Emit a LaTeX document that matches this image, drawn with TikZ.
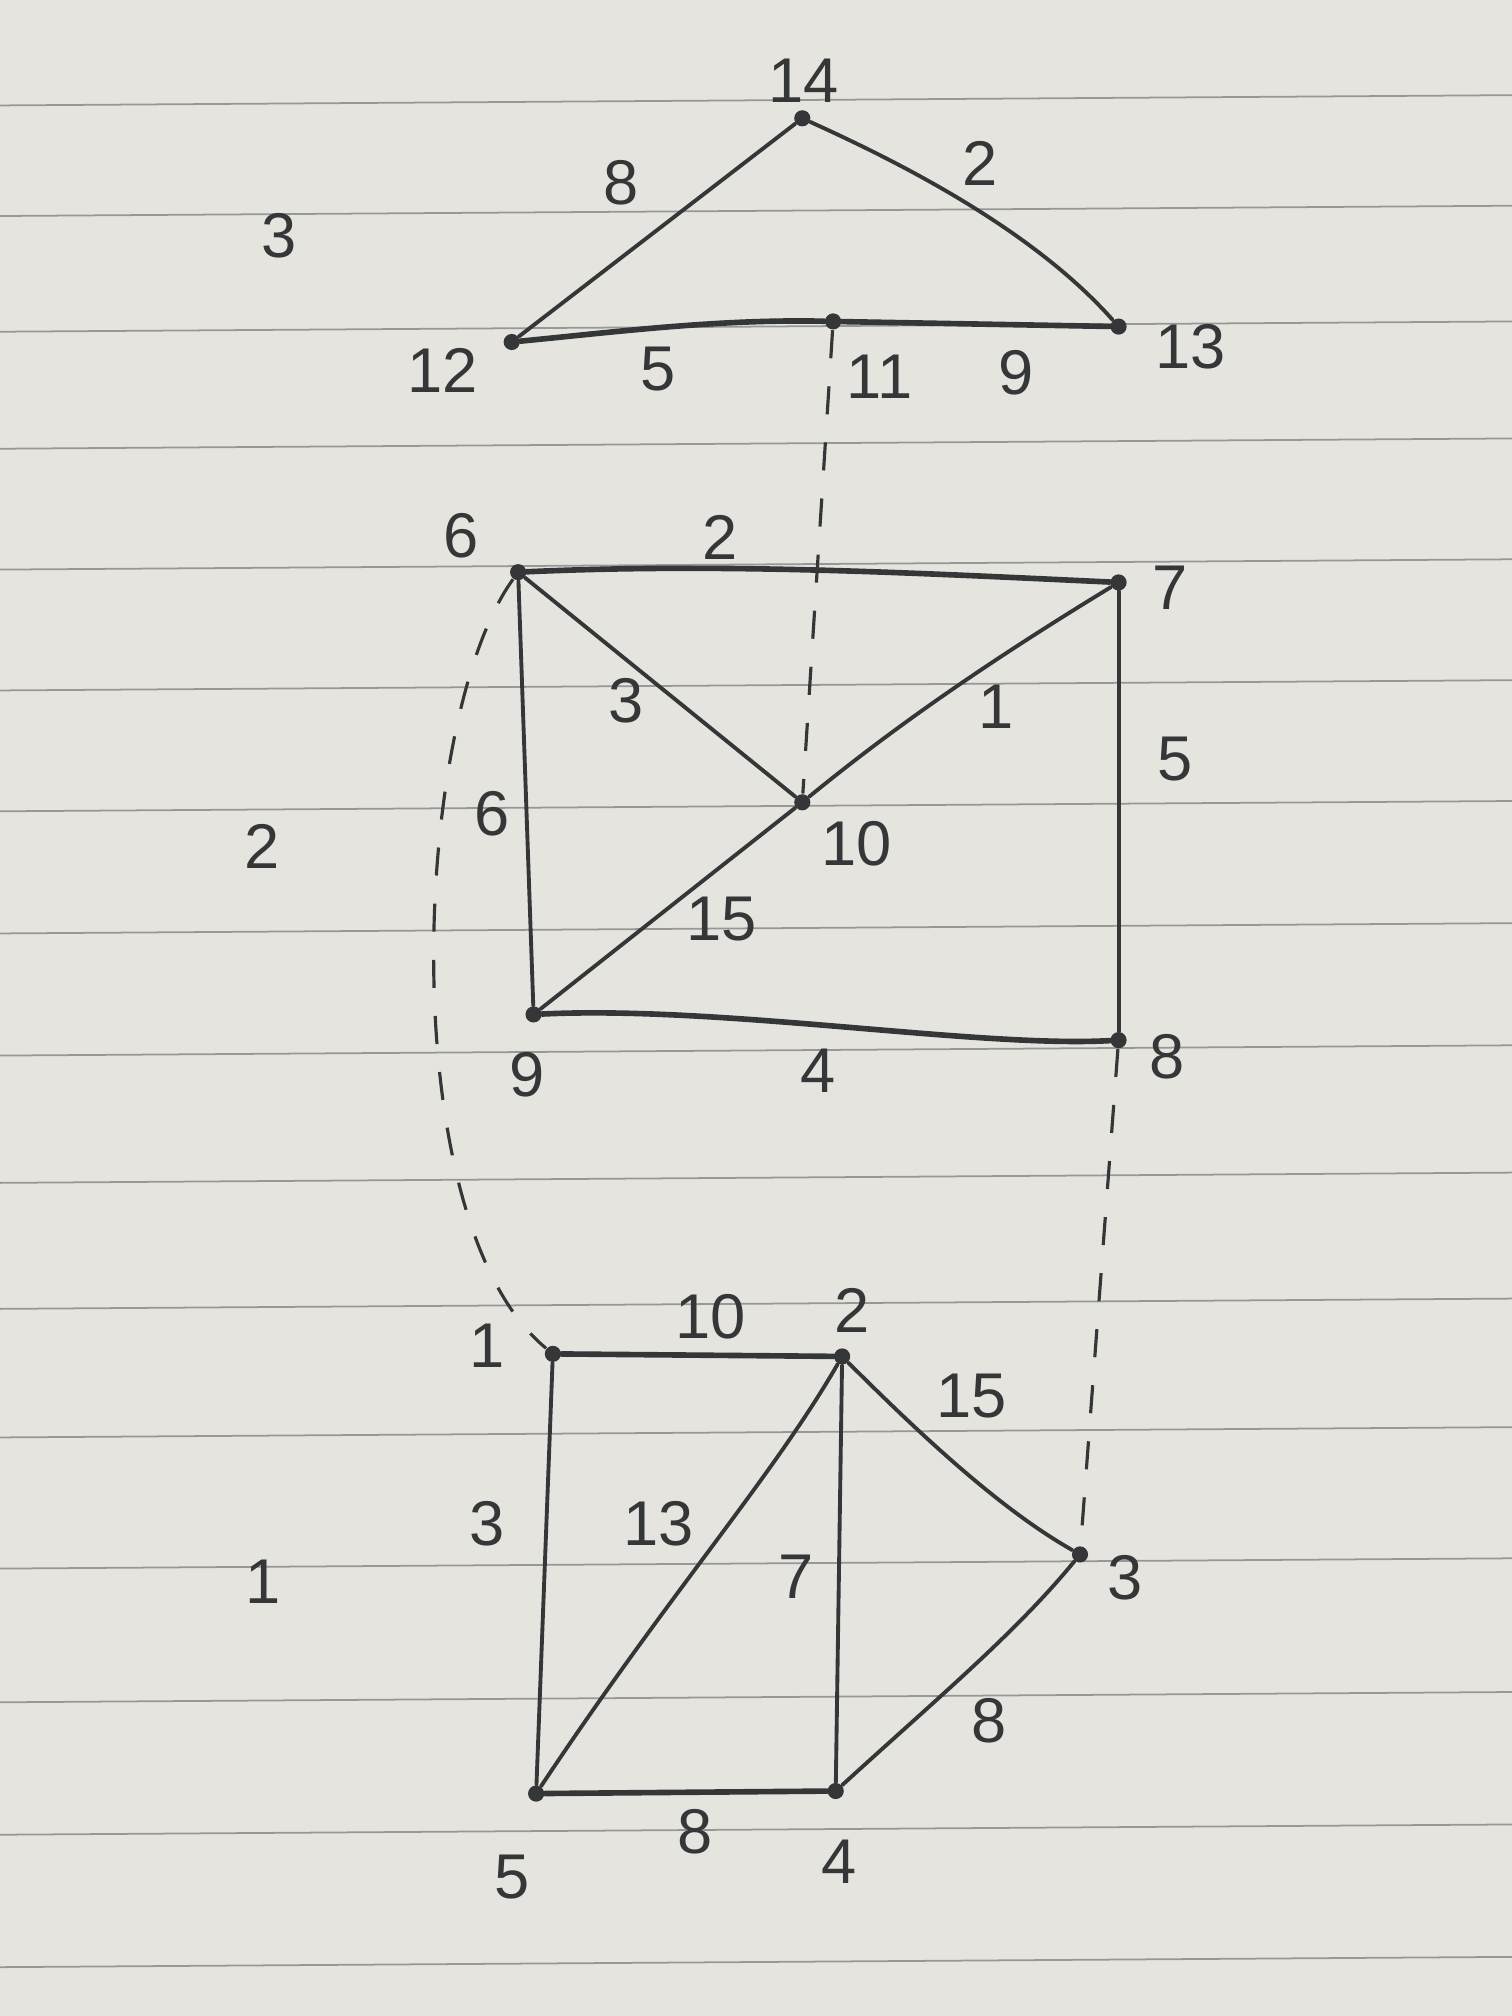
\documentclass[tikz,border=0pt]{standalone}
\usepackage{fontspec}
\setmainfont{Liberation Sans}
\definecolor{paper}{RGB}{229,228,223}
\definecolor{rulec}{RGB}{150,152,150}
\definecolor{ink}{RGB}{52,54,56}
\begin{document}
\begin{tikzpicture}[x=0.012857cm,y=-0.012857cm,
  vtx/.style={circle,fill=ink,draw=none,inner sep=0pt,minimum size=4.6pt},
  lab/.style={text=ink,inner sep=0pt,font=\fontsize{18}{20}\selectfont},
  edge/.style={draw=ink,line width=1.1pt,line cap=round,line join=round},
  heavy/.style={edge,line width=1.6pt},
  dashedge/.style={draw=ink,line width=0.9pt,dash pattern=on 8pt off 8pt},
  rule/.style={draw=rulec,line width=0.5pt}]
\useasboundingbox (0,0) rectangle (1176,1568);
\fill[paper] (0,0) rectangle (1176,1568);
% ruled paper lines
\foreach \y in {82,168,258,349,443,537,631,726,821,920,1018,1118,1220,1324,1427,1530}
  \draw[rule] (0,\y) -- (1176,\y-8);

% vertices
\node[vtx] (n14) at (624,92) {};
\node[vtx] (n12) at (398,266) {};
\node[vtx] (n11) at (648,250) {};
\node[vtx] (n13) at (870,254) {};
\node[vtx] (n6) at (403,445) {};
\node[vtx] (n7) at (870,453) {};
\node[vtx] (n10) at (624,624) {};
\node[vtx] (n9) at (415,789) {};
\node[vtx] (n8) at (870,809) {};
\node[vtx] (n1) at (430,1053) {};
\node[vtx] (n2) at (655,1055) {};
\node[vtx] (n3) at (840,1209) {};
\node[vtx] (n4) at (650,1393) {};
\node[vtx] (n5) at (417,1395) {};

% top triangle
\draw[edge] (n14) -- (n12);
\draw[edge] (n14) .. controls (690,122) and (800,175) .. (n13);
\draw[heavy] (n12) .. controls (480,258) and (560,248) .. (n11);
\draw[heavy] (n11) -- (n13);

% middle rectangle
\draw[heavy] (n6) .. controls (560,438) and (700,445) .. (n7);
\draw[edge] (n6) -- (n9);
\draw[edge] (n7) -- (n8);
\draw[heavy] (n9) .. controls (560,782) and (760,815) .. (n8);
\draw[edge] (n6) -- (n10);
\draw[edge] (n7) .. controls (760,520) and (690,570) .. (n10);
\draw[edge] (n10) -- (n9);

% bottom figure
\draw[heavy] (n1) -- (n2);
\draw[edge] (n1) -- (n5);
\draw[heavy] (n5) -- (n4);
\draw[edge] (n2) -- (n4);
\draw[edge] (n2) .. controls (600,1150) and (520,1240) .. (n5);
\draw[edge] (n2) .. controls (720,1120) and (780,1175) .. (n3);
\draw[edge] (n3) .. controls (790,1270) and (730,1320) .. (n4);

% dashed links
\draw[dashedge] (n11) -- (n10);
\draw[dashedge] (n6) .. controls (320,560) and (305,950) .. (n1);
\draw[dashedge] (n8) -- (n3);

% node labels
\node[lab] (t14) at (625,63) {14};
\node[lab] (t12) at (344,288) {12};
\node[lab] (t13) at (926,270) {13};
\node[lab] (t11) at (684,293) {11};
\node[lab] (t6) at (359,417) {6};
\node[lab] (t7) at (910,457) {7};
\node[lab] (t10) at (666,656) {10};
\node[lab] (t9) at (410,836) {9};
\node[lab] (t8) at (908,822) {8};
\node[lab] (t1) at (379,1047) {1};
\node[lab] (t2) at (663,1019) {2};
\node[lab] (t3) at (875,1227) {3};
\node[lab] (t4) at (653,1448) {4};
\node[lab] (t5) at (398,1460) {5};

% edge labels
\node[lab] (e1412) at (483,142) {8};
\node[lab] (e1413) at (762,127) {2};
\node[lab] (e1211) at (512,287) {5};
\node[lab] (e1113) at (790,290) {9};
\node[lab] (e67) at (560,418) {2};
\node[lab] (e610) at (487,545) {3};
\node[lab] (e710) at (775,550) {1};
\node[lab] (e78) at (914,590) {5};
\node[lab] (e69) at (383,633) {6};
\node[lab] (e109) at (561,715) {15};
\node[lab] (e98) at (636,833) {4};
\node[lab] (e12) at (553,1024) {10};
\node[lab] (e23) at (756,1086) {15};
\node[lab] (e15) at (379,1185) {3};
\node[lab] (e25) at (512,1185) {13};
\node[lab] (e24) at (619,1226) {7};
\node[lab] (e34) at (769,1338) {8};
\node[lab] (e54) at (541,1425) {8};

% region labels
\node[lab] (r3) at (217,183) {3};
\node[lab] (r2) at (204,658) {2};
\node[lab] (r1) at (205,1230) {1};
\end{tikzpicture}
\end{document}
